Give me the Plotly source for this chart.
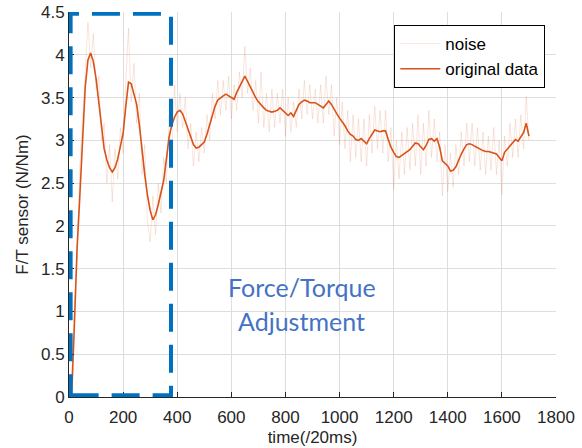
import plotly.graph_objects as go

# time samples (every 10 samples, unit: 20 ms)
t = list(range(0, 1701, 10))

# smoothed "original data" values
original = [
    0.00, 0.03, 0.85, 1.75, 2.35, 3.08, 3.62, 3.94, 4.02, 3.92,
    3.72, 3.45, 3.15, 2.90, 2.77, 2.68, 2.63, 2.68, 2.78, 2.92,
    3.08, 3.40, 3.68, 3.66, 3.53, 3.42, 3.18, 2.85, 2.60, 2.36,
    2.18, 2.07, 2.13, 2.25, 2.38, 2.53, 2.78, 3.04, 3.18, 3.27,
    3.33, 3.35, 3.31, 3.22, 3.13, 3.02, 2.95, 2.91, 2.92, 2.95,
    2.98, 3.07, 3.18, 3.31, 3.40, 3.47, 3.50, 3.52, 3.54, 3.52,
    3.49, 3.48, 3.56, 3.63, 3.69, 3.75, 3.69, 3.62, 3.55, 3.50,
    3.45, 3.41, 3.38, 3.35, 3.34, 3.33, 3.34, 3.35, 3.38, 3.35,
    3.31, 3.29, 3.32, 3.28, 3.35, 3.42, 3.45, 3.47, 3.46, 3.44,
    3.44, 3.44, 3.42, 3.40, 3.38, 3.42, 3.46, 3.42, 3.36, 3.31,
    3.26, 3.22, 3.17, 3.11, 3.07, 3.05, 3.01, 3.00, 3.02, 2.99,
    2.96, 3.02, 3.07, 3.12, 3.11, 3.10, 3.11, 3.11, 3.01, 2.92,
    2.86, 2.81, 2.80, 2.82, 2.84, 2.87, 2.89, 2.93, 2.97, 2.96,
    2.93, 2.89, 2.94, 3.01, 3.02, 2.99, 3.02, 2.92, 2.76, 2.73,
    2.70, 2.64, 2.65, 2.69, 2.77, 2.84, 2.90, 2.95, 2.96, 2.95,
    2.93, 2.91, 2.89, 2.88, 2.87, 2.87, 2.86, 2.85, 2.84, 2.80,
    2.76, 2.86, 2.90, 2.94, 2.98, 3.01, 2.99, 3.04, 3.09, 3.20,
    3.05,
]

# raw noisy sensor values
noise = [
    0.00, 0.30, 1.10, 1.60, 2.70, 3.30, 3.90, 4.38, 3.85, 4.25,
    3.60, 3.75, 3.00, 3.20, 2.50, 2.95, 2.28, 2.90, 2.55, 3.15,
    2.85, 3.70, 4.31, 3.45, 3.90, 3.20, 3.55, 2.60, 2.95, 2.05,
    1.81, 2.35, 1.90, 2.50, 2.15, 2.80, 2.50, 3.30, 2.85, 3.65,
    3.10, 3.55, 3.15, 3.50, 2.90, 3.20, 2.70, 3.10, 2.75, 3.15,
    2.85, 3.30, 3.00, 3.55, 3.25, 3.70, 3.30, 3.70, 3.35, 3.75,
    3.25, 3.65, 3.35, 3.80, 3.50, 4.10, 3.55, 3.85, 3.35, 3.70,
    3.20, 3.80, 3.15, 3.55, 3.10, 3.60, 3.15, 3.55, 3.20, 3.60,
    3.05, 3.50, 3.10, 3.45, 3.15, 3.60, 3.25, 3.70, 3.30, 3.65,
    3.25, 3.60, 3.20, 3.65, 3.20, 3.75, 3.30, 3.65, 3.05, 3.50,
    2.95, 3.45, 2.90, 3.35, 2.75, 3.30, 2.80, 3.25, 2.75, 3.25,
    2.70, 3.30, 2.85, 3.40, 2.90, 3.35, 2.85, 3.35, 2.75, 3.15,
    2.42, 3.00, 2.55, 3.10, 2.60, 3.15, 2.65, 3.20, 2.70, 3.30,
    2.60, 3.20, 2.70, 3.35, 2.80, 3.25, 2.75, 3.10, 2.35, 2.95,
    2.40, 2.85, 2.45, 2.95, 2.60, 3.10, 2.70, 3.20, 2.75, 3.20,
    2.70, 3.15, 2.65, 3.10, 2.60, 3.05, 2.65, 3.15, 2.60, 3.00,
    2.36, 3.05, 2.70, 3.20, 2.80, 3.25, 2.80, 3.30, 2.90, 3.51,
    3.00,
]

x_ticks = [0, 200, 400, 600, 800, 1000, 1200, 1400, 1600, 1800]
y_ticks = [0, 0.5, 1, 1.5, 2, 2.5, 3, 3.5, 4, 4.5]
y_tick_text = ["0", "0.5", "1", "1.5", "2", "2.5", "3", "3.5", "4", "4.5"]

region_start, region_end = 6, 377
label_lines = ["Force/Torque", "Adjustment"]

ORANGE = "rgb(217,83,25)"
BLUE = "rgb(0,112,192)"
DARK = "#262626"
GRID = "#dedede"
FONT = "Liberation Sans, Arial, sans-serif"

fig = go.Figure()
fig.add_trace(go.Scatter(x=t, y=noise, mode="lines", name="noise",
                         line=dict(color="rgba(217,83,25,0.15)", width=1)))
fig.add_trace(go.Scatter(x=t, y=original, mode="lines", name="original data",
                         line=dict(color=ORANGE, width=1.6)))

fig.add_shape(type="rect", xref="x", yref="y",
              x0=region_start, x1=region_end, y0=0.02, y1=4.48,
              line=dict(color=BLUE, width=4, dash="28px,13px"),
              layer="above")

fig.add_annotation(x=861, y=1.29, xref="x", yref="y", text=label_lines[0],
                   showarrow=False, font=dict(family="Lato", size=25, color="#4472C4"))
fig.add_annotation(x=861, y=0.89, xref="x", yref="y", text=label_lines[1],
                   showarrow=False, font=dict(family="Lato", size=25, color="#4472C4"))

fig.update_layout(
    width=582, height=448,
    margin=dict(l=69, r=26, t=12, b=51, autoexpand=False),
    paper_bgcolor="white", plot_bgcolor="white",
    font=dict(family=FONT, size=17, color=DARK),
    showlegend=True,
    legend=dict(x=0.978, y=0.966, xanchor="right", yanchor="top",
                bgcolor="white", bordercolor="black", borderwidth=1,
                font=dict(family=FONT, size=17, color="black"),
                tracegroupgap=0, itemwidth=40),
)
fig.update_xaxes(range=[0, 1800], tickvals=x_ticks, showgrid=True, gridcolor=GRID,
                 showline=True, linecolor=DARK, linewidth=1, ticks="inside",
                 ticklen=5, tickcolor=DARK, zeroline=False, automargin=False,
                 ticklabelstandoff=5,
                 title=dict(text="time(/20ms)", font=dict(size=17), standoff=4))
fig.update_yaxes(range=[0, 4.5], tickvals=y_ticks, ticktext=y_tick_text,
                 showgrid=True, gridcolor=GRID,
                 showline=True, linecolor=DARK, linewidth=1, ticks="inside",
                 ticklen=5, tickcolor=DARK, zeroline=False, automargin=False,
                 title=dict(text="F/T sensor (N/Nm)", font=dict(size=17), standoff=8))

fig.write_html("out.html", config={"displayModeBar": False},
               post_script="document.body.style.margin='0';document.body.style.overflow='hidden';")
